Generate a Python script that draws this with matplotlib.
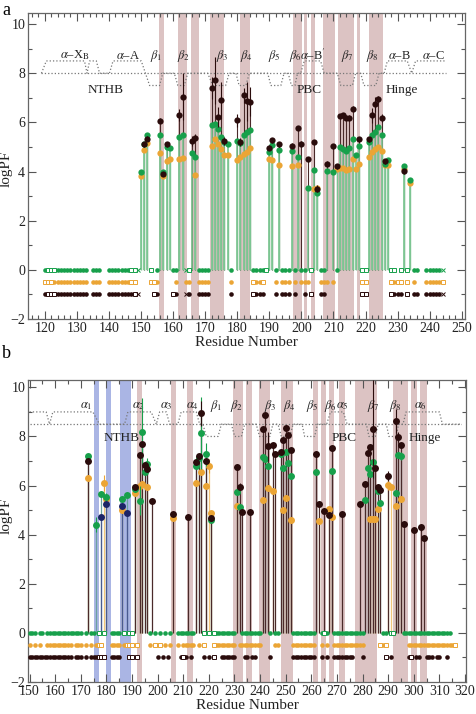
import numpy as np
import matplotlib
matplotlib.use('Agg')
import matplotlib.pyplot as plt
from matplotlib.ticker import MultipleLocator

plt.rcParams['font.family'] = ['Liberation Serif', 'DejaVu Serif']
plt.rcParams['mathtext.fontset'] = 'stix'

# ---------------- panel a data ----------------
ga_res = [150,151,152,156,157,158,159,162,163,166,167,172,173,174,175,176,177,180,181,182,183,184,
          190,191,193,197,199,202,204,205,208,210,212,213,214,215,216,217,218,221,222,223,224,225,226,227,232,234]
ga_val = [4.0,5.1,5.5,5.47,4.0,5.0,4.96,5.4,5.5,4.77,4.6,5.9,5.95,5.74,5.4,5.2,5.13,5.24,5.15,5.47,5.6,5.68,
          4.8,5.07,4.87,4.83,4.6,3.35,4.05,3.14,4.02,4.0,5.0,4.9,4.82,4.95,5.31,4.68,5.04,5.2,5.47,5.6,5.82,5.5,4.3,4.45,4.23,3.65]

oa_res = [150,151,152,156,157,158,159,162,163,167,172,173,174,175,176,177,180,181,182,183,184,
          190,191,193,197,199,204,205,211,212,213,214,215,216,217,218,221,222,223,224,225,226,227,232,234]
oa_val = [3.8,4.88,5.16,4.77,3.8,4.43,4.5,4.5,4.57,3.85,5.04,5.34,5.13,4.9,4.66,4.66,4.46,4.6,4.73,4.8,4.96,
          4.53,4.46,4.28,4.23,4.25,3.3,3.35,4.12,4.15,4.15,4.05,4.12,4.53,4.1,4.32,4.59,4.8,4.9,5.0,4.82,4.27,4.27,4.12,3.55]

ka_res = [151,152,156,157,158,162,163,166,167,172,173,174,175,176,180,181,182,183,184,
          190,191,193,197,199,200,202,204,205,208,210,211,212,213,214,215,216,218,221,222,223,224,225,226,232]
ka_val = [5.1,5.34,6.06,3.9,5.1,6.31,7.05,5.24,5.37,7.4,7.71,6.22,6.9,5.24,6.08,5.2,7.1,6.86,6.84,
          4.97,5.27,5.1,5.05,5.77,5.13,4.5,5.2,3.3,4.32,5.03,4.22,6.26,6.29,6.18,6.18,6.56,5.31,5.31,6.29,6.73,6.94,6.18,4.42,4.01]
ka_err = [0.1,0.1,0.1,0.1,0.1,0.25,0.95,0.2,0.15,0.45,0.95,0.4,0.75,0.15,0.25,0.15,0.3,0.8,0.6,
          0.1,0.1,0.1,0.1,0.1,0.1,0.1,0.1,0.15,0.1,0.1,0.1,0.1,0.1,0.1,0.1,0.1,0.1,0.1,0.3,0.3,0.15,0.15,0.1,0.1]

# residues without data (rows at 0, -0.5, -1)
g0a_fill = [120,*range(124,134),135,136,137,*range(140,147),155,160,161,*range(168,172),178,*range(185,189),
            192,194,195,196,198,200,201,206,207,211,235,236,*range(239,244)]
g0a_open = [121,122,123,147,148,153,165,189,203,219,220,228,229,231,233]
g0a_x = [149,164,244]
o0a_fill = [*range(123,134),135,136,137,*range(140,147),155,161,164,165,*range(168,172),178,186,187,192,
            194,195,196,198,200,201,202,206,207,208,210,229,235,*range(239,244)]
o0a_open = [120,121,122,147,148,153,154,185,188,219,220,228,230,231,233,244]
k0a_fill = [120,*range(124,134),135,136,137,*range(140,148),155,161,165,*range(168,172),178,186,187,188,
            192,194,195,196,198,201,206,207,229,230,231,235,236,*range(239,244)]
k0a_open = [121,122,123,148,154,160,185,203,219,220,228,233]
k0a_x = [149,164,244]

shade_a = [(155.7,157.2),(161.7,164.5),(165.7,168.2),(171.6,176.0),(181.0,184.1),(197.5,200.3),
           (200.9,201.8),(203.0,204.3),(206.8,210.5),(211.4,216.4),(217.4,218.3),(221.1,225.4)]

ssa_x = [119.0,120.5,132.4,133.2,134.0,136.1,137.1,140.2,141.3,150.1,152.7,155.8,156.8,160.4,161.5,163.5,164.6,
         170.8,172.4,176.4,177.5,179.6,180.6,182.7,183.8,189.5,190.5,193.6,194.6,195.9,196.9,198.0,198.8,
         199.8,200.9,206.0,207.1,211.2,212.3,215.9,216.9,218.5,219.5,223.2,224.2,225.8,226.8,233.0,234.4,235.6,244.9]
ssa_y = [8,8.5,8.5,8,8.5,8.5,8,8,8.5,8.5,7.5,7.5,8,8,7.5,7.5,8,
         8,7.5,7.5,8,8,7.5,7.5,8,8,7.5,7.5,8,8,7.5,7.5,8,
         8,8.5,8.5,8,8,7.5,7.5,8,8,7.5,7.5,8,8,8.5,8.5,8,8.5,8.5]
lab_a = [r'$\alpha$–X$_\mathrm{B}$', r'$\alpha$–A', r'$\beta_1$', r'$\beta_2$', r'$\beta_3$', r'$\beta_4$',
         r'$\beta_5$', r'$\beta_6$', r"$\alpha$–B$'$", r'$\beta_7$', r'$\beta_8$', r'$\alpha$–B', r'$\alpha$–C']
lab_a_x = [129.3,145.9,154.8,163.3,175.4,182.8,191.6,198.0,203.6,214.3,222.0,230.4,241.3]
reg_a = ['NTHB', 'PBC', 'Hinge']
reg_a_x = [139.0, 202.4, 231.4]

# ---------------- panel b data ----------------
gb_res = [173,176,178,180,186,188,191,193,194,195,196,215,216,217,219,221,231,232,241,242,243,
          248,249,250,251,252,262,268,281,282,283,284,286,287,293,294,295]
gb_val = [7.2,4.4,5.66,5.53,5.47,5.62,5.85,5.39,8.2,6.57,6.89,6.8,7.13,8.14,7.28,4.6,5.73,5.12,7.15,7.08,6.81,
          7.27,6.72,7.38,6.9,6.37,6.57,6.6,5.4,6.7,6.46,6.98,5.76,5.3,5.71,7.25,7.2]
gb_err = [0.1,0.3,0.1,0.15,0.1,0.1,0.1,0.6,1.35,0.1,0.25,0.1,0.1,1.45,0.47,0.1,0.1,0.1,0.1,0.1,0.1,
          0.1,0.1,0.1,0.1,0.1,0.1,0.1,0.1,0.1,0.1,0.1,0.1,0.1,0.1,0.1,0.15]

ob_res = [173,179,180,186,191,193,194,196,206,215,217,219,220,221,231,241,243,245,249,250,252,
          263,267,268,283,284,285,286,290,291,293,295]
ob_val = [6.3,6.1,5.45,5.0,5.69,6.0,6.06,5.95,4.67,6.1,6.57,5.97,6.8,4.87,5.17,5.42,5.9,5.78,5.0,5.49,4.58,
          4.57,5.05,4.74,4.65,4.65,4.65,5.04,6.03,5.95,5.15,5.45]
ob_err = [0.08,0.32,0.08,0.08,0.08,0.08,0.08,0.08,0.08,0.08,0.08,0.08,0.3,0.08,0.08,0.08,0.08,0.08,0.08,0.08,0.08,
          0.08,0.08,0.08,0.08,0.08,0.08,0.08,0.2,0.08,0.08,0.08]

kb_res = [173,191,193,194,195,196,198,206,212,215,216,217,219,221,231,232,233,236,241,242,243,245,246,
          248,249,250,251,252,262,263,265,267,268,272,279,281,282,283,284,285,286,287,290,293,294,295,296,300,303,304]
kb_val = [7.02,5.93,7.25,7.68,6.84,6.67,5.39,4.85,4.73,6.95,7.2,8.94,6.99,4.66,6.76,5.95,4.94,4.94,8.3,8.86,7.6,7.65,7.3,
          7.38,7.84,8.36,8.06,7.45,7.29,5.26,4.97,4.8,7.52,4.85,5.24,6.07,7.34,7.58,8.3,6.7,5.96,5.83,6.38,8.63,7.97,7.65,4.45,4.2,4.3,3.86]
kb_err = [0.1,0.1,0.1,0.1,0.1,0.1,0.1,0.1,0.1,0.1,0.1,0.5,0.1,0.1,0.1,0.15,0.1,0.1,0.1,0.1,0.6,0.1,0.1,
          0.1,0.1,0.1,0.1,0.1,0.1,0.1,0.1,0.1,0.1,0.1,0.1,0.1,0.1,0.1,2.0,0.1,0.1,0.1,0.2,0.5,0.2,0.1,0.1,0.1,0.15,0.1]

nb_res = [178,180,186,188]
nb_val = [4.7,5.26,5.15,4.88]

g0b_fill = [150,151,152,154,155,*range(157,171),172,174,175,182,183,184,185,197,199,201,203,205,*range(208,215),
            *range(223,231),*range(233,241),244,246,247,*range(253,262),264,266,*range(269,281),288,289,*range(296,315)]
g0b_open = [177,179,187,189,190,218,220,222,265,291,292]
o0b_fill = [150,152,154,*range(157,167),168,169,170,172,174,176,182,183,184,185,187,197,200,203,205,208,
            *range(210,215),216,*range(223,231),232,*range(233,241),246,247,*range(253,262),264,266,*range(269,281),288,*range(298,316)]
o0b_open = [177,178,188,189,190,192,199,201,218,222,287,289,316]
k0b_fill = [*range(150,167),168,169,170,172,174,175,176,182,183,184,185,200,202,204,209,211,213,218,220,
            *range(225,231),234,235,237,238,244,*range(253,262),264,266,*range(269,277),280,291,298,301,302,305,306,307,309,310,313]
k0b_open = [177,178,179,189,190,192,210,222,289,299]

blue_b = [(175.1,177.3),(179.7,181.9),(185.2,189.5)]
shade_b = [(192.1,194.0),(205.2,207.3),(211.6,213.8),(229.3,233.4),(234.7,237.0),(239.6,244.0),(248.0,252.9),
           (260.7,262.6),(263.8,265.8),(266.9,268.9),(271.0,273.0),(277.1,285.6),(291.9,297.6),(299.1,301.1),(302.3,305.3)]

ssb_x = [150.0,156.5,157.8,159.1,174.7,177.3,187.1,188.4,197.5,199.5,200.8,203.4,204.7,207.9,209.2,215.1,216.4,217.7,
         219.0,223.6,224.9,228.8,230.1,232.7,234.0,238.5,239.8,243.8,245.0,247.0,248.3,251.6,252.9,256.4,257.4,261.3,
         262.4,266.0,267.5,272.5,274.0,281.5,282.5,285.0,286.1,289.3,290.3,293.1,294.1,295.8,297.0,310.0,311.2,318.6]
ssb_y = [9,9,8.5,9,9,8.5,8.5,9,9,8.5,9,9,8.5,8.5,9,9,8.5,8.5,
         8,8,8.5,8.5,8,8,8.5,8.5,8,8,8.5,8.5,8,8,8.5,8.5,8,8,
         8.5,8.5,9,9,8.5,8.5,8,8,8.5,8.5,8,8,8.5,8.5,9,9,8.5,8.5]
lab_b = [r'$\alpha_1$', r'$\alpha_2$', r'$\alpha_3$', r'$\alpha_4$', r'$\beta_1$', r'$\beta_2$', r'$\beta_3$',
         r'$\beta_4$', r'$\beta_5$', r'$\beta_6$', r'$\alpha_5$', r'$\beta_7$', r'$\beta_8$', r'$\alpha_6$']
lab_b_x = [172.1,192.7,203.4,213.5,222.9,231.0,244.1,251.3,260.3,267.4,272.3,284.4,292.8,302.6]
reg_b = ['NTHB', 'PBC', 'Hinge']
reg_b_x = [185.8, 273.0, 304.3]

GREEN = '#17a04b'
ORANGE = '#eba535'
DARK = '#2a0c0c'
NAVY = '#1c2466'
ROSE = '#dcc3c3'
BLUE = '#aab5e4'
STEM_G = '#7cc592'
STEM_K = '#4a2a2a'
GO_ERR = 0.08

fig = plt.figure(figsize=(4.77, 7.14), dpi=100)
ax1 = fig.add_axes([28/477, 1-319/714, 437/477, 306/714])
ax2 = fig.add_axes([28/477, 1-682/714, 438/477, 302/714])


def style_axes(ax, xlim, ylim, xmaj, xmin, ylab_y):
    ax.set_xlim(*xlim)
    ax.set_ylim(*ylim)
    ax.xaxis.set_major_locator(MultipleLocator(xmaj))
    ax.xaxis.set_minor_locator(MultipleLocator(xmin))
    ax.yaxis.set_major_locator(MultipleLocator(2))
    ax.yaxis.set_minor_locator(MultipleLocator(1))
    ax.tick_params(which='both', direction='in', top=True, right=True, colors='#555555',
                   labelcolor='#222222', labelsize=10, pad=2)
    ax.tick_params(which='major', length=6, width=0.8)
    ax.tick_params(which='minor', length=3, width=0.8)
    for s in ax.spines.values():
        s.set_color('#666666')
        s.set_linewidth(0.9)
    ax.set_xlabel('Residue Number', fontsize=11, labelpad=1, color='#222222')
    ax.set_ylabel('logPF', fontsize=11, color='#222222')
    ax.yaxis.set_label_coords(-0.036, ylab_y)


def zero_rows(ax, fills, opens, crosses):
    for y, col, f, o, c in zip([0, -0.5, -1], [GREEN, ORANGE, DARK], fills, opens, crosses):
        ax.plot(f, [y]*len(f), 'o', color=col, ms=3.3, mew=0, zorder=4)
        ax.plot(o, [y]*len(o), 's', mfc='white', mec=col, ms=3.0, mew=0.7, zorder=4)
        ax.plot(c, [y]*len(c), 'x', color=col, ms=3.0, mew=0.7, zorder=4)


# ---------------- panel a ----------------
style_axes(ax1, (114.8, 251), (-2, 10.45), 10, 2, 0.49)
for lo, hi in shade_a:
    ax1.axvspan(lo, hi, color=ROSE, lw=0, zorder=0)
ax1.plot([119, 245], [8, 8], ls=':', color='#777777', lw=0.9, zorder=1)
ax1.plot(ssa_x, ssa_y, ls=':', color='#777777', lw=0.9, zorder=1)
for t, x in zip(lab_a, lab_a_x):
    ax1.text(x, 8.72, t, ha='center', va='center', fontsize=9, color='#222222')
for t, x in zip(reg_a, reg_a_x):
    ax1.text(x, 7.3, t, ha='center', va='center', fontsize=9.5, color='#222222')

ax1.vlines(ka_res, 0, ka_val, colors=STEM_K, lw=0.8, zorder=2)
ax1.vlines(oa_res, 0, oa_val, colors=STEM_G, lw=1.0, zorder=2)
ax1.vlines(ga_res, 0, ga_val, colors=STEM_G, lw=1.2, zorder=2)
ax1.errorbar(oa_res, oa_val, yerr=GO_ERR, fmt='o', color=ORANGE, ms=4.5, mew=0, capsize=2.5,
             elinewidth=0.8, capthick=0.8, zorder=5)
ax1.errorbar(ga_res, ga_val, yerr=GO_ERR, fmt='o', color=GREEN, ms=4.5, mew=0, capsize=2.5,
             elinewidth=0.8, capthick=0.8, zorder=6)
ax1.errorbar(ka_res, ka_val, yerr=ka_err, fmt='o', color=DARK, ms=4.5, mew=0, capsize=3,
             elinewidth=0.8, capthick=0.8, zorder=7)
zero_rows(ax1, [g0a_fill, o0a_fill, k0a_fill], [g0a_open, o0a_open, k0a_open], [g0a_x, [], k0a_x])

# ---------------- panel b ----------------
style_axes(ax2, (149.4, 320.4), (-2, 10.3), 10, 5, 0.55)
for lo, hi in blue_b:
    ax2.axvspan(lo, hi, color=BLUE, lw=0, zorder=0)
for lo, hi in shade_b:
    ax2.axvspan(lo, hi, color=ROSE, lw=0, zorder=0)
ax2.plot([150, 318.6], [8.5, 8.5], ls=':', color='#777777', lw=0.9, zorder=1)
ax2.plot(ssb_x, ssb_y, ls=':', color='#777777', lw=0.9, zorder=1)
for t, x in zip(lab_b, lab_b_x):
    ax2.text(x, 9.25, t, ha='center', va='center', fontsize=9, color='#222222')
for t, x in zip(reg_b, reg_b_x):
    ax2.text(x, 7.95, t, ha='center', va='center', fontsize=9.5, color='#222222')

ax2.vlines(gb_res, 0, gb_val, colors='#6aa0a0', lw=0.9, zorder=2)
ax2.vlines(ob_res, 0, ob_val, colors='#f2c77a', lw=0.9, zorder=2)
ax2.vlines(nb_res, 0, nb_val, colors='#4a5a90', lw=0.9, zorder=2)
ax2.vlines(kb_res, 0, kb_val, colors=STEM_K, lw=0.9, zorder=3)
ax2.errorbar(ob_res, ob_val, yerr=ob_err, fmt='o', color=ORANGE, ms=5, mew=0, capsize=2.5,
             elinewidth=0.8, capthick=0.8, zorder=5)
ax2.errorbar(gb_res, gb_val, yerr=gb_err, fmt='o', color=GREEN, ms=5, mew=0, capsize=2.5,
             elinewidth=0.8, capthick=0.8, zorder=6)
ax2.plot(nb_res, nb_val, 'o', color=NAVY, ms=5, mew=0, zorder=6)
ax2.errorbar(kb_res, kb_val, yerr=kb_err, fmt='o', color=DARK, ms=5, mew=0, capsize=2.5,
             elinewidth=0.8, capthick=0.8, zorder=7)
zero_rows(ax2, [g0b_fill, o0b_fill, k0b_fill], [g0b_open, o0b_open, k0b_open], [[], [], []])

fig.text(0.004, 0.997, 'a', ha='left', va='top', fontsize=13)
fig.text(0.004, 1-345/714, 'b', ha='left', va='top', fontsize=13)

fig.savefig('out.png', dpi=100)
